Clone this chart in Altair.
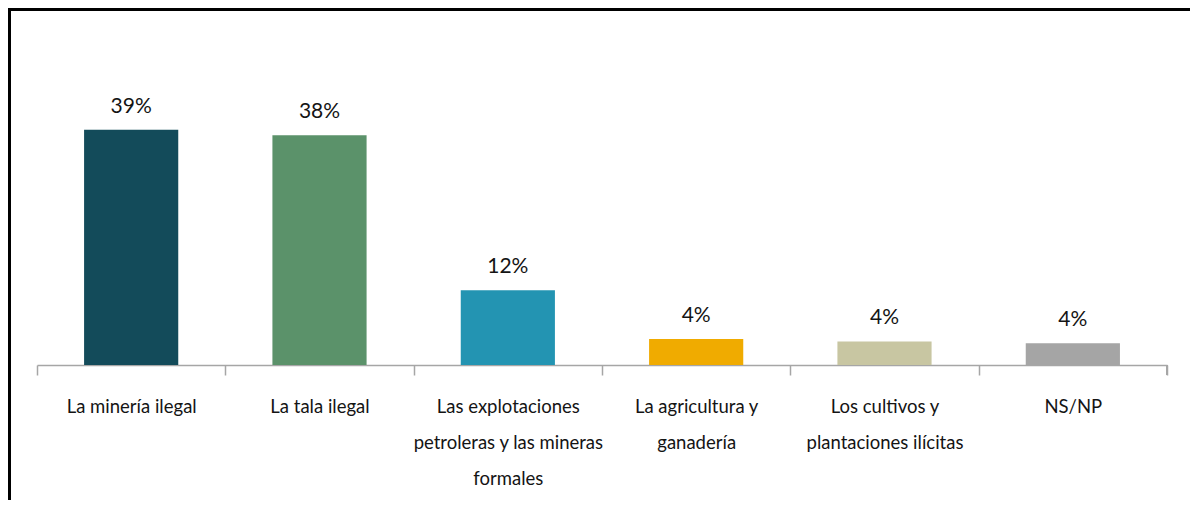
import altair as alt
import pandas as pd

categories = [
    "La minería ilegal",
    "La tala ilegal",
    "Las explotaciones|petroleras y las mineras|formales",
    "La agricultura y|ganadería",
    "Los cultivos y|plantaciones ilícitas",
    "NS/NP",
]
values = [39.0, 38.1, 12.4, 4.3, 3.9, 3.6]
labels = ["39%", "38%", "12%", "4%", "4%", "4%"]
colors = ["#134B5A", "#5B926A", "#2394B2", "#F0AB00", "#C8C6A2", "#A5A5A5"]

df = pd.DataFrame({"cat": categories, "val": values, "lab": labels, "col": colors})

FONT = "Lato, Liberation Sans, sans-serif"
W, H = 1130, 345

x = alt.X(
    "cat:N",
    sort=categories,
    scale=alt.Scale(paddingInner=0, paddingOuter=0),
    axis=alt.Axis(
        title=None,
        labelAngle=0,
        bandPosition=0,
        tickBand="extent",
        labelExpr="split(datum.label, '|')",
        labelFont=FONT,
        labelFontSize=18.5,
        labelColor="#141414",
        labelLineHeight=36,
        labelPadding=22,
        labelBaseline="top",
        domainColor="#A6A6A6",
        domainWidth=1.5,
        tickColor="#A6A6A6",
        tickWidth=1.5,
        tickSize=10,
        labelLimit=400,
    ),
)
y = alt.Y("val:Q", scale=alt.Scale(domain=[0, 57.2], nice=False), axis=None)

bars = alt.Chart(df).mark_bar(width=alt.RelativeBandSize(0.5)).encode(
    x=x, y=y, color=alt.Color("col:N", scale=None)
)
text = alt.Chart(df).mark_text(
    dy=-17, baseline="alphabetic", font=FONT, fontSize=21, color="#141414"
).encode(x=x, y=y, text="lab:N")

end_tick = alt.Chart(df).mark_rule(color="#A6A6A6", strokeWidth=1.5).encode(
    x=alt.value(W), y=alt.value(H), y2=alt.value(H + 10)
)
border_left = alt.Chart(df).mark_rule(color="black", strokeWidth=3).encode(
    x=alt.value(-27.5), y=alt.value(-12), y2=alt.value(H + 200)
)
border_top = alt.Chart(df).mark_rule(color="black", strokeWidth=3).encode(
    x=alt.value(-29), x2=alt.value(W + 40), y=alt.value(-10.5)
)

chart = (
    alt.layer(bars, text, end_tick, border_left, border_top)
    .properties(
        width=W,
        height=H,
        background="white",
        autosize=alt.AutoSizeParams(type="none"),
        padding={"left": 29, "top": 12, "right": 23, "bottom": 135},
    )
    .configure_view(strokeWidth=0, stroke="transparent")
)

chart.save("out.html", embed_options={"renderer": "svg", "actions": False})
